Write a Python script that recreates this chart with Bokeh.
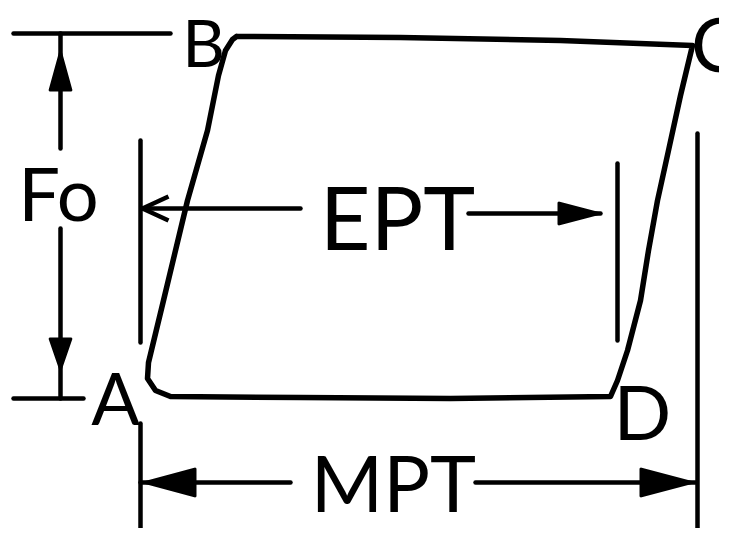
from bokeh.plotting import figure
from bokeh.models import Range1d
from bokeh.core.properties import value
from bokeh.embed import file_html
from bokeh.resources import INLINE

# ---- diagram data (image-pixel coordinates, y grows downward) ----
# Parallelogram loop B -> C -> D -> A -> B
loop_x = [236, 400, 560, 692, 680, 668, 657, 648, 640, 627, 617, 610,
          450, 300, 170, 155, 147, 148, 163, 187, 207, 218, 225, 232, 236]
loop_y = [36, 37, 40, 45, 95, 150, 200, 250, 300, 350, 380, 396,
          398, 397, 396, 390, 378, 362, 300, 200, 130, 75, 50, 39, 36]

# Dimension lines (segments)
seg_x0 = [13, 60, 60, 13, 140, 142, 468, 617, 140, 140, 475, 697]
seg_y0 = [33, 33, 228, 398, 140, 208, 213, 163, 423, 482, 482, 133]
seg_x1 = [170, 60, 60, 83, 140, 300, 600, 617, 140, 290, 695, 697]
seg_y1 = [33, 148, 398, 398, 342, 208, 213, 340, 540, 482, 482, 544]

# Filled arrow heads: tip, and base centre + half width
head_tip_x = [60, 60, 600, 143, 693]
head_tip_y = [50, 370, 213, 482, 482]
head_base_x = [60, 60, 558, 195, 640]
head_base_y = [90, 338, 213, 482, 482]
head_half = [11, 11, 11, 14, 14]

# Open vee head (EPT, left)
vee_tip = (142, 208)
vee_len = 26
vee_half = 12

# Labels (centre of the capital letters)
labels = ["Fo", "EPT", "MPT", "B", "C", "A", "D"]
label_x = [58, 397, 393, 203, 716, 115, 642]
label_y = [192, 215, 481, 41, 42, 396, 410]
label_size = ["74px", "88px", "78px", "66px", "76px", "72px", "76px"]

W, H = 719, 528
p = figure(width=W, height=H, output_backend="svg", toolbar_location=None,
           x_range=Range1d(0, W), y_range=Range1d(H, 0),
           min_border=0, outline_line_color=None)
p.axis.visible = False
p.grid.visible = False
p.background_fill_color = "white"
p.border_fill_color = "white"

p.line(loop_x, loop_y, line_width=5.5, line_color="black",
       line_join="round", line_cap="round")
p.segment(seg_x0, seg_y0, seg_x1, seg_y1, line_width=4.5, line_color="black",
          line_cap="round")

hx, hy = [], []
for tx, ty, bx, by, hw in zip(head_tip_x, head_tip_y, head_base_x, head_base_y, head_half):
    dx, dy = tx - bx, ty - by
    n = (dx * dx + dy * dy) ** 0.5
    px, py = -dy / n * hw, dx / n * hw
    hx.append([tx, bx + px, bx - px])
    hy.append([ty, by + py, by - py])
p.patches(hx, hy, fill_color="black", line_color="black", line_width=2)

vx, vy = vee_tip
p.multi_line([[vx + vee_len, vx, vx + vee_len]],
             [[vy - vee_half, vy, vy + vee_half]],
             line_width=4.5, line_color="black", line_join="round")

for t, x, y, s in zip(labels, label_x, label_y, label_size):
    p.text([x], [y], text=[t], text_font=value("Lato"),
           text_font_size=s, text_align="center", text_baseline="middle",
           text_color="black")

open("out.html", "w").write(file_html(p, INLINE))
